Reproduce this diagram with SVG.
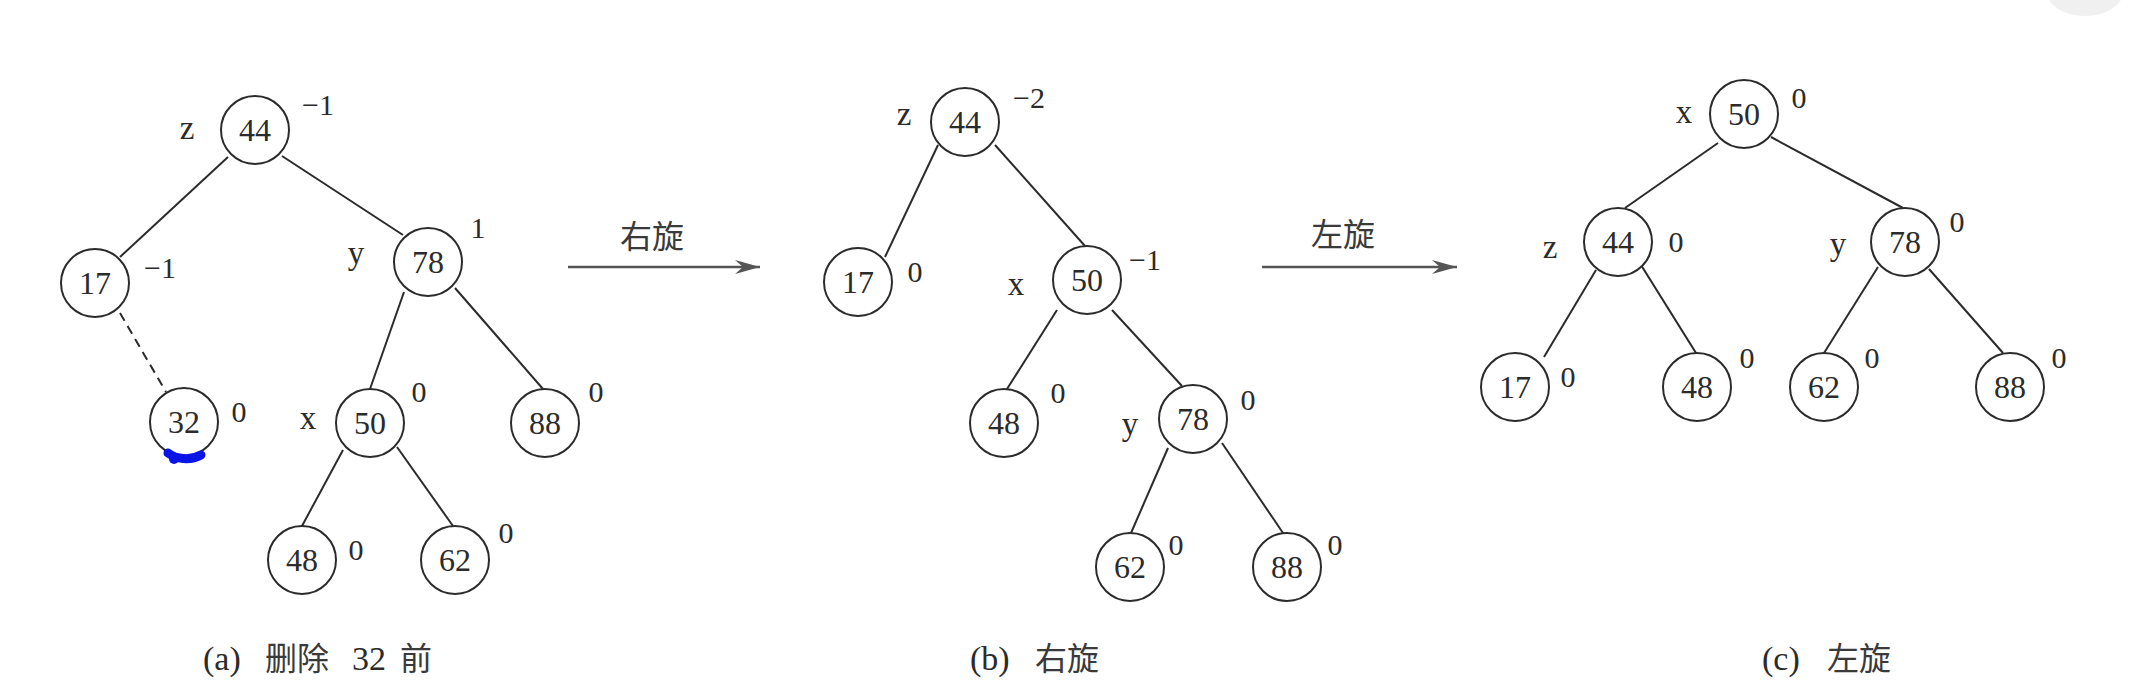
<svg xmlns="http://www.w3.org/2000/svg" width="2142" height="694" viewBox="0 0 2142 694">
<style>
.c{fill:#fff;stroke:#2b2b2b;stroke-width:2}
.e{stroke:#2b2b2b;stroke-width:2;fill:none}
.d{stroke:#2b2b2b;stroke-width:2;fill:none;stroke-dasharray:9 6}
.ar{stroke:#555;stroke-width:2.5;fill:none}
text{font-family:"Liberation Serif","Noto Sans CJK SC",serif;fill:#2b2b2b}
.v{font-size:32px;text-anchor:middle}
.l{font-size:33px;text-anchor:middle}
.b{font-size:30px;text-anchor:middle}
.cap{font-size:34px}
.cj{font-family:"Noto Sans CJK SC",sans-serif;font-size:32px;fill:#3a3a3a}
</style>
<defs>
<marker id="ah" markerWidth="30" markerHeight="16" viewBox="-26 -8 30 16" refX="0" refY="0" orient="auto" markerUnits="userSpaceOnUse">
<path d="M0,0 L-25,-7 L-17,0 L-25,7 Z" fill="#555"/>
</marker>
</defs>
<rect width="2142" height="694" fill="#fff"/>
<ellipse cx="2085" cy="-8" rx="38" ry="24" fill="#f0f0f0"/>

<g id="connectors">
<!-- tree a -->
<line class="e" x1="228" y1="157" x2="120" y2="257"/>
<line class="e" x1="282" y1="156" x2="403" y2="235"/>
<line class="d" x1="120" y1="313" x2="166" y2="392"/>
<line class="e" x1="404" y1="292" x2="370" y2="389"/>
<line class="e" x1="455" y1="288" x2="543" y2="389"/>
<line class="e" x1="343" y1="450" x2="302" y2="526"/>
<line class="e" x1="397" y1="447" x2="453" y2="526"/>
<!-- tree b -->
<line class="e" x1="938" y1="145" x2="885" y2="257"/>
<line class="e" x1="995" y1="145" x2="1085" y2="246"/>
<line class="e" x1="1057" y1="310" x2="1007" y2="389"/>
<line class="e" x1="1112" y1="310" x2="1182" y2="386"/>
<line class="e" x1="1168" y1="448" x2="1131" y2="533"/>
<line class="e" x1="1222" y1="443" x2="1283" y2="533"/>
<!-- tree c -->
<line class="e" x1="1718" y1="143" x2="1625" y2="208"/>
<line class="e" x1="1771" y1="137" x2="1903" y2="208"/>
<line class="e" x1="1596" y1="270" x2="1544" y2="357"/>
<line class="e" x1="1641" y1="265" x2="1696" y2="353"/>
<line class="e" x1="1878" y1="267" x2="1824" y2="353"/>
<line class="e" x1="1929" y1="269" x2="2003" y2="353"/>
<!-- arrows -->
<line class="ar" x1="568" y1="267" x2="760" y2="267" marker-end="url(#ah)"/>
<line class="ar" x1="1262" y1="267" x2="1457" y2="267" marker-end="url(#ah)"/>
</g>

<g id="arrow-labels">
<text class="cj" x="652" y="248" text-anchor="middle">右旋</text>
<text class="cj" x="1343" y="246" text-anchor="middle">左旋</text>
</g>

<!-- tree (a) -->
<g id="a44"><circle class="c" cx="255" cy="130" r="34"/><text class="v" x="255" y="141">44</text><text class="l" x="187" y="139">z</text><text class="b" x="318" y="115">−1</text></g>
<g id="a17"><circle class="c" cx="95" cy="283" r="34"/><text class="v" x="95" y="294">17</text><text class="b" x="160" y="278">−1</text></g>
<g id="a78"><circle class="c" cx="428" cy="262" r="34"/><text class="v" x="428" y="273">78</text><text class="l" x="356" y="264">y</text><text class="b" x="478" y="238">1</text></g>
<g id="a32"><circle class="c" cx="184" cy="422" r="34"/><text class="v" x="184" y="433">32</text><text class="b" x="239" y="422">0</text>
<path d="M168,453 C176,459 190,461 201,455" stroke="#0a14e6" stroke-width="9" stroke-linecap="round" fill="none"/><circle cx="174" cy="459" r="5" fill="#0a14e6"/></g>
<g id="a50"><circle class="c" cx="370" cy="423" r="34"/><text class="v" x="370" y="434">50</text><text class="l" x="308" y="429">x</text><text class="b" x="419" y="402">0</text></g>
<g id="a88"><circle class="c" cx="545" cy="423" r="34"/><text class="v" x="545" y="434">88</text><text class="b" x="596" y="402">0</text></g>
<g id="a48"><circle class="c" cx="302" cy="560" r="34"/><text class="v" x="302" y="571">48</text><text class="b" x="356" y="560">0</text></g>
<g id="a62"><circle class="c" cx="455" cy="560" r="34"/><text class="v" x="455" y="571">62</text><text class="b" x="506" y="543">0</text></g>

<!-- tree (b) -->
<g id="b44"><circle class="c" cx="965" cy="122" r="34"/><text class="v" x="965" y="133">44</text><text class="l" x="904" y="125">z</text><text class="b" x="1029" y="108">−2</text></g>
<g id="b17"><circle class="c" cx="858" cy="282" r="34"/><text class="v" x="858" y="293">17</text><text class="b" x="915" y="282">0</text></g>
<g id="b50"><circle class="c" cx="1087" cy="280" r="34"/><text class="v" x="1087" y="291">50</text><text class="l" x="1016" y="295">x</text><text class="b" x="1145" y="270">−1</text></g>
<g id="b48"><circle class="c" cx="1004" cy="423" r="34"/><text class="v" x="1004" y="434">48</text><text class="b" x="1058" y="403">0</text></g>
<g id="b78"><circle class="c" cx="1193" cy="419" r="34"/><text class="v" x="1193" y="430">78</text><text class="l" x="1130" y="435">y</text><text class="b" x="1248" y="410">0</text></g>
<g id="b62"><circle class="c" cx="1130" cy="567" r="34"/><text class="v" x="1130" y="578">62</text><text class="b" x="1176" y="555">0</text></g>
<g id="b88"><circle class="c" cx="1287" cy="567" r="34"/><text class="v" x="1287" y="578">88</text><text class="b" x="1335" y="555">0</text></g>

<!-- tree (c) -->
<g id="c50"><circle class="c" cx="1744" cy="114" r="34"/><text class="v" x="1744" y="125">50</text><text class="l" x="1684" y="123">x</text><text class="b" x="1799" y="108">0</text></g>
<g id="c44"><circle class="c" cx="1618" cy="242" r="34"/><text class="v" x="1618" y="253">44</text><text class="l" x="1550" y="258">z</text><text class="b" x="1676" y="252">0</text></g>
<g id="c78"><circle class="c" cx="1905" cy="242" r="34"/><text class="v" x="1905" y="253">78</text><text class="l" x="1838" y="255">y</text><text class="b" x="1957" y="232">0</text></g>
<g id="c17"><circle class="c" cx="1515" cy="387" r="34"/><text class="v" x="1515" y="398">17</text><text class="b" x="1568" y="387">0</text></g>
<g id="c48"><circle class="c" cx="1697" cy="387" r="34"/><text class="v" x="1697" y="398">48</text><text class="b" x="1747" y="368">0</text></g>
<g id="c62"><circle class="c" cx="1824" cy="387" r="34"/><text class="v" x="1824" y="398">62</text><text class="b" x="1872" y="368">0</text></g>
<g id="c88"><circle class="c" cx="2010" cy="387" r="34"/><text class="v" x="2010" y="398">88</text><text class="b" x="2059" y="368">0</text></g>

<g id="captions">
<text class="cap" y="670"><tspan x="203">(a)</tspan><tspan class="cj" x="265">删除</tspan><tspan x="352">32</tspan><tspan class="cj" x="400">前</tspan></text>
<text class="cap" y="670"><tspan x="970">(b)</tspan><tspan class="cj" x="1035">右旋</tspan></text>
<text class="cap" y="670"><tspan x="1762">(c)</tspan><tspan class="cj" x="1827">左旋</tspan></text>
</g>
</svg>
